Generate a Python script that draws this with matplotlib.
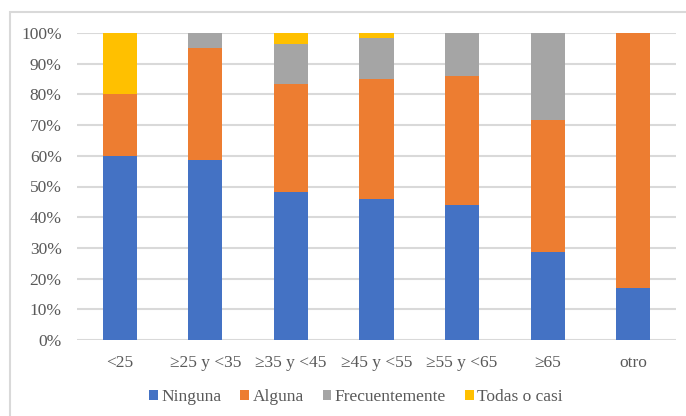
import numpy as np
import matplotlib
matplotlib.use('Agg')
import matplotlib.pyplot as plt
from matplotlib.patches import Rectangle
from matplotlib.ticker import PercentFormatter

plt.rcParams['font.family'] = ['Liberation Serif', 'DejaVu Serif']

# data (percent of each age group)
categories = ['<25', '≥25 y <35', '≥35 y <45', '≥45 y <55', '≥55 y <65', '≥65', 'otro']
ninguna = [60.0, 58.6, 48.2, 45.9, 44.0, 28.8, 16.8]
alguna = [20.0, 36.4, 35.2, 39.1, 42.1, 43.0, 83.2]
frecuentemente = [0.0, 5.0, 13.0, 13.3, 13.9, 28.2, 0.0]
todas = [20.0, 0.0, 3.6, 1.7, 0.0, 0.0, 0.0]

series = [('Ninguna', ninguna, '#4472C4'),
          ('Alguna', alguna, '#ED7D31'),
          ('Frecuentemente', frecuentemente, '#A5A5A5'),
          ('Todas o casi', todas, '#FFC000')]

text_color = '#595959'
fs = 12.5

fig = plt.figure(figsize=(6.86, 4.16), dpi=100)
ax = fig.add_axes([77/686, 1 - 340/416, (676-77)/686, (340-33)/416])

x = np.arange(len(categories))
bottom = np.zeros(len(categories))
for name, vals, col in series:
    vals = np.array(vals)
    ax.bar(x, vals, 0.4, bottom=bottom, color=col, label=name, zorder=3)
    bottom += vals

ax.set_xlim(-0.5, len(categories) - 0.5)
ax.set_ylim(0, 100)
ax.set_yticks(np.arange(0, 101, 10))
ax.yaxis.set_major_formatter(PercentFormatter(decimals=0))
ax.grid(axis='y', color='#d9d9d9', linewidth=1.5, zorder=0)
for s in ax.spines.values():
    s.set_visible(False)
ax.tick_params(length=0, colors=text_color, labelsize=fs)
ax.tick_params(axis='y', pad=11)
ax.tick_params(axis='x', pad=10.5)
ax.set_xticks(x)
ax.set_xticklabels(categories)

handles, labels = ax.get_legend_handles_labels()
fig.legend(handles, labels, loc='center', bbox_to_anchor=(356/686, 1 - 397/416),
           ncol=4, frameon=False, fontsize=fs, handlelength=0.5, handleheight=0.5,
           handletextpad=0.2, columnspacing=1.1, labelcolor=text_color)

# chart border
fig.patches.append(Rectangle((10/686, -0.1), 1.1, 1 - 12/416 + 0.1,
                             transform=fig.transFigure, fill=False,
                             edgecolor='#d9d9d9', linewidth=1.5))

fig.savefig('out.png', dpi=100)
